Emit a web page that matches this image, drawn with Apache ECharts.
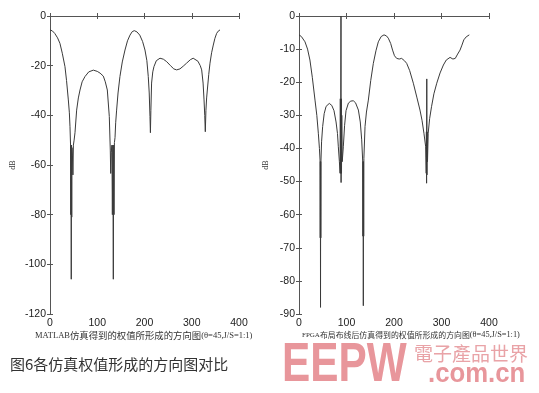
<!DOCTYPE html>
<html><head><meta charset="utf-8">
<script src="https://cdn.jsdelivr.net/npm/echarts@6/dist/echarts.min.js"></script>
<style>html,body{margin:0;padding:0;background:#fff}#c{width:539px;height:393px}</style>
</head><body><div id="c"></div>
<script>
// ---- data (angle in degrees, pattern in dB) ----
const matlabAngle = [0,5,10,16,21,26,31.7,35,38.8,41,42.3,43.5,44.0,44.5,45.0,45.5,46.0,46.5,47.5,48.5,49.5,51,52.9,56.4,60,63.5,68,74,82,91.7,100,106,112.8,117,121.3,125.5,127.6,128.5,129.5,131,132,133,134,134.8,135.5,136.3,137.6,139,141,144,148,153,158.7,164,169.3,174,178.4,184,190,196,201,205,208,210,211.6,212.5,213.5,215,217.5,220,225,232.8,240,247,255,262,268,275,282,289,297,303,307,313,318,321,324,326,327.5,328.7,330,331.5,333,336,338.6,342,345.6,349,352.7,356,359.8];
const matlabDb =    [-5.6,-6,-7,-8.8,-11,-15,-20.4,-26,-33.8,-39,-44.6,-52,-80,-52,-106,-52,-81,-53,-56,-64,-52,-50,-47,-37.9,-33,-29.8,-26.5,-24.4,-22.5,-21.8,-22.3,-23,-24.2,-26.5,-29.8,-40.5,-54,-63.4,-55,-52,-80,-52,-106,-52,-80,-51,-49,-43,-37.9,-31,-24.4,-18.5,-13.7,-10,-7.7,-6.3,-5.9,-6.4,-7.7,-10.3,-13.7,-18,-24.4,-31,-40.5,-47,-38,-27,-22.5,-20.4,-18,-17,-17.4,-18.4,-20,-21.3,-21.7,-21.3,-20.2,-19,-17.6,-17,-17,-18.2,-20,-21.7,-27,-33.8,-40,-46.6,-38,-33,-29.8,-23.5,-19,-14.8,-11.7,-9,-7,-6.1,-5.6];

const fpgaAngle = [0,5,12.6,18,23,28,33.7,37.5,40.7,43,44.3,44.7,45.0,45.3,45.6,45.9,46.3,47.5,49.8,53,57,63.8,69,73.7,78,81,82.8,85,86.5,87,87.5,88,88.4,88.6,89,89.5,90,91,93.3,96,99,104,109,114.3,119,125,129,132,134,134.6,135,135.4,135.8,136.2,136.6,139,142,146,151,156.5,162,167,173,179,184,188,193,197,201,205.6,211,216,222,226.7,233,240.7,248,254.7,259,263,266.7,267.8,268.2,268.6,269.0,269.4,269.8,270.5,272,275,279,284,290,297,304,310,318,324,329,334,339,343,347,352,358.5];
const fpgaDb =    [-5.7,-6.2,-7.8,-10,-13.3,-18.5,-25.4,-30,-35.4,-40,-43.5,-67,-44,-88,-44,-67,-43.5,-38,-33.4,-29.5,-27.3,-26.4,-27,-28.6,-32,-35.5,-39.5,-44,-47.5,-25,-47.5,-25,0,-50.3,-25,-47.5,-30,-44,-39.5,-33,-28.6,-26.3,-25.7,-25.6,-26.2,-28.4,-32,-37.4,-43.5,-66.5,-44,-87.5,-44,-66.5,-43,-33.4,-29,-25.4,-19.5,-14.3,-10.5,-7.8,-6.2,-5.7,-6,-6.7,-8.3,-10.3,-12,-12.8,-13,-12.8,-13.5,-14.3,-16.5,-20.3,-24.5,-28.4,-31.5,-35.4,-39.5,-47.5,-35,-50.5,-19,-48,-35,-44,-35.4,-31,-27.4,-23.5,-20.3,-17.2,-14.8,-13.3,-12.5,-13,-12.8,-11.5,-10.3,-8.8,-7.2,-6.3,-5.7];

const xMin = 0, xMax = 400, xStep = 100;
const leftYMin = -120, leftYStep = 20;
const rightYMin = -90, rightYStep = 10;

const leftCaptionMain = 'MATLAB仿真得到的权值所形成的方向图';
const rightCaptionMain = 'FPGA布局布线后仿真得到的权值所形成的方向图';
const captionParam = '(θ=45,J/S=1:1)';
const figureCaption = '图6各仿真权值形成的方向图对比';

// ---- chart ----
const axisColor = '#555';
const labelFont = {fontFamily:'Liberation Sans, Arial, sans-serif', fontSize:10.5, color:'#222'};
function xAxes(g){
  return [
    {gridIndex:g, type:'value', min:xMin, max:xMax, interval:xStep, position:'bottom',
     axisLine:{lineStyle:{color:axisColor,width:1}}, axisTick:{inside:true,length:3,lineStyle:{color:axisColor}},
     axisLabel:Object.assign({margin:4}, labelFont), splitLine:{show:false}},
    {gridIndex:g, type:'value', min:xMin, max:xMax, interval:xStep, position:'top',
     axisLine:{lineStyle:{color:axisColor,width:1}}, axisTick:{inside:true,length:3,lineStyle:{color:axisColor}},
     axisLabel:{show:false}, splitLine:{show:false}}
  ];
}
function yAxes(g, ymin, ystep, gap){
  return [
    {gridIndex:g, type:'value', min:ymin, max:0, interval:ystep, position:'left',
     name:'dB', nameLocation:'middle', nameGap:gap, nameRotate:90,
     nameTextStyle:{fontFamily:'Liberation Serif, serif', fontSize:8, color:'#333'},
     axisLine:{show:true,lineStyle:{color:axisColor,width:1}}, axisTick:{show:true,inside:true,length:3,lineStyle:{color:axisColor}},
     axisLabel:Object.assign({margin:4}, labelFont), splitLine:{show:false}},
    {gridIndex:g, type:'value', min:ymin, max:0, interval:ystep, position:'right',
     axisLine:{show:true,lineStyle:{color:axisColor,width:1}}, axisTick:{show:true,inside:true,length:3,lineStyle:{color:axisColor}},
     axisLabel:{show:false}, splitLine:{show:false}}
  ];
}

const chart = echarts.init(document.getElementById('c'), null, {renderer:'canvas'});
const lineStyle = {color:'#3a3a3a', width:1};
chart.setOption({
  animation:false,
  backgroundColor:'#fff',
  grid:[
    {left:50, top:16, width:189, height:298},
    {left:299, top:16, width:190, height:298}
  ],
  xAxis: xAxes(0).concat(xAxes(1)),
  yAxis: yAxes(0, leftYMin, leftYStep, 33).concat(yAxes(1, rightYMin, rightYStep, 29)),
  series:[
    {type:'line', xAxisIndex:0, yAxisIndex:0, showSymbol:false, symbol:'none', lineStyle:lineStyle,
     data: matlabAngle.map((a,i)=>[a, matlabDb[i]])},
    {type:'line', xAxisIndex:2, yAxisIndex:2, showSymbol:false, symbol:'none', lineStyle:lineStyle,
     data: fpgaAngle.map((a,i)=>[a, fpgaDb[i]])}
  ],
  graphic:[
    {type:'text', left:35, top:331, style:{
      text:'{a|'+leftCaptionMain.slice(0,6)+'}{b|'+leftCaptionMain.slice(6)+'}{c|'+captionParam+'}',
      rich:{a:{fontFamily:'Liberation Serif, serif', fontSize:8.5, fill:'#333'},
            b:{fontFamily:'Noto Sans CJK SC', fontSize:9.4, fill:'#333'},
            c:{fontFamily:'Liberation Serif, serif', fontSize:8.5, fill:'#333'}}}},
    {type:'text', left:302, top:331, style:{
      text:'{a|'+rightCaptionMain.slice(0,4)+'}{b|'+rightCaptionMain.slice(4)+'}{c|'+captionParam+'}',
      rich:{a:{fontFamily:'Liberation Serif, serif', fontSize:7, fill:'#333'},
            b:{fontFamily:'Noto Sans CJK SC', fontSize:7.9, fill:'#333'},
            c:{fontFamily:'Liberation Serif, serif', fontSize:8.3, fill:'#333'}}}},
    {type:'text', left:10, top:357, style:{text:figureCaption, fontFamily:'Noto Sans CJK SC', fontSize:15, fill:'#333'}},
    {type:'text', x:282, y:338, scaleX:0.77, style:{text:'EEPW', fontFamily:'Liberation Sans, Arial', fontWeight:'bold', fontSize:55, fill:'#E8969B'}},
    {type:'text', x:414, y:344, style:{text:'電子產品世界', fontFamily:'Noto Sans CJK TC', fontSize:19, fill:'#E9A3A7'}},
    {type:'text', x:428, y:360, scaleX:0.92, style:{text:'.com.cn', fontFamily:'Liberation Sans, Arial', fontWeight:'bold', fontSize:28, fill:'#E8969B'}}
  ]
});
</script></body></html>
